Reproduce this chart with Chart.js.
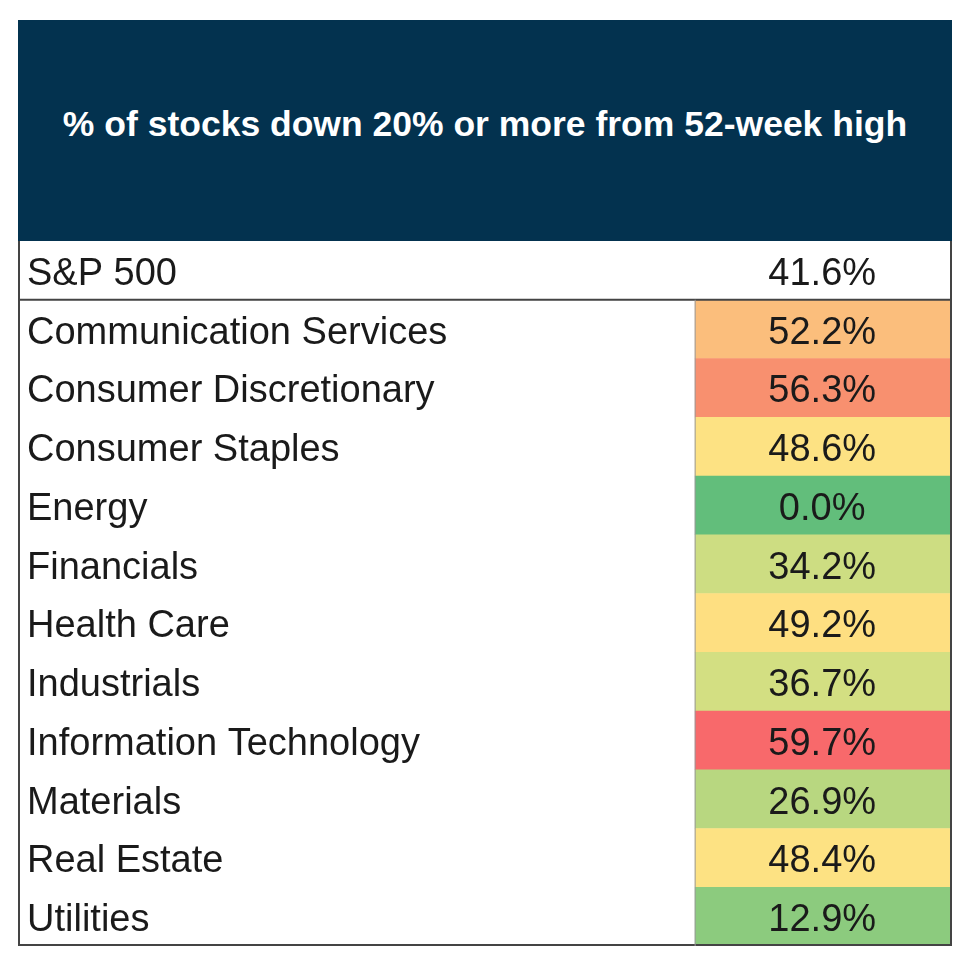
<!DOCTYPE html>
<html lang="en">
<head>
    <meta charset="UTF-8">
    <script src="https://cdn.jsdelivr.net/npm/chart.js@4"></script>
    <title>Stocks down 20% from 52-week high</title>
    <style>
        body { margin: 0; background: #fff; font-family: "Liberation Sans", Arial, sans-serif; }
        .box { position: absolute; left: 18px; top: 20px; width: 934px; }
        .header {
            height: 221px; background: #03324f; color: #fff;
            font-weight: bold; font-size: 35.5px; display: flex;
            align-items: center; justify-content: center; padding-bottom: 12px; box-sizing: border-box;
        }
        .chart-wrap { position: relative; height: 705px; width: 934px; }
    </style>
</head>
<body>
<div class="box">
    <div class="header">% of stocks down 20% or more from 52-week high</div>
    <div class="chart-wrap"><canvas id="tbl"></canvas></div>
</div>
<script>
    const sectors = ["S&P 500", "Communication Services", "Consumer Discretionary", "Consumer Staples",
        "Energy", "Financials", "Health Care", "Industrials", "Information Technology",
        "Materials", "Real Estate", "Utilities"];
    const values = [41.6, 52.2, 56.3, 48.6, 0.0, 34.2, 49.2, 36.7, 59.7, 26.9, 48.4, 12.9];
    const cellColors = ["#ffffff", "#fbbe7c", "#f8906f", "#fde283", "#62be7b", "#cddd82",
        "#fedf81", "#d3df82", "#f8696b", "#b8d780", "#fde283", "#8ccb7e"];

    const valueColStart = 0.725;

    const tableText = {
        id: 'tableText',
        afterDatasetsDraw(chart) {
            const ctx = chart.ctx;
            const x = chart.scales.x, y = chart.scales.y;
            ctx.save();
            ctx.fillStyle = '#1a1a1a';
            ctx.font = '38px "Liberation Sans", Arial, sans-serif';
            ctx.textBaseline = 'middle';
            sectors.forEach((name, i) => {
                const py = y.getPixelForValue(i) + 4;
                ctx.textAlign = 'left';
                ctx.fillText(name, x.getPixelForValue(0) + 9, py);
                ctx.textAlign = 'center';
                ctx.fillText(values[i].toFixed(1) + '%', x.getPixelForValue(0.861), py);
            });
            // grid lines
            const top = y.getPixelForValue(0) - (y.getPixelForValue(1) - y.getPixelForValue(0)) / 2;
            const sepY = (y.getPixelForValue(0) + y.getPixelForValue(1)) / 2;
            const bottom = y.getPixelForValue(sectors.length - 1) + (y.getPixelForValue(1) - y.getPixelForValue(0)) / 2;
            const left = x.getPixelForValue(0), right = x.getPixelForValue(1);
            const colX = x.getPixelForValue(valueColStart);
            ctx.strokeStyle = '#444';
            ctx.lineWidth = 2;
            ctx.beginPath();
            ctx.moveTo(left + 1, top); ctx.lineTo(left + 1, bottom - 1);
            ctx.lineTo(right - 1, bottom - 1); ctx.lineTo(right - 1, top);
            ctx.moveTo(left, sepY); ctx.lineTo(right, sepY);
            ctx.stroke();
            ctx.lineWidth = 1;
            ctx.strokeStyle = '#999';
            ctx.beginPath();
            ctx.moveTo(colX, sepY); ctx.lineTo(colX, bottom);
            ctx.stroke();
            ctx.restore();
        }
    };

    new Chart(document.getElementById('tbl'), {
        type: 'bar',
        data: {
            labels: sectors,
            datasets: [{
                data: values.map(() => [valueColStart, 1]),
                backgroundColor: cellColors,
                borderWidth: 0,
                barPercentage: 1,
                categoryPercentage: 1
            }]
        },
        options: {
            indexAxis: 'y',
            responsive: true,
            maintainAspectRatio: false,
            animation: false,
            layout: { padding: 0 },
            plugins: { legend: { display: false }, tooltip: { enabled: false } },
            scales: {
                x: { min: 0, max: 1, display: false },
                y: { display: false }
            }
        },
        plugins: [tableText]
    });
</script>
</body>
</html>
